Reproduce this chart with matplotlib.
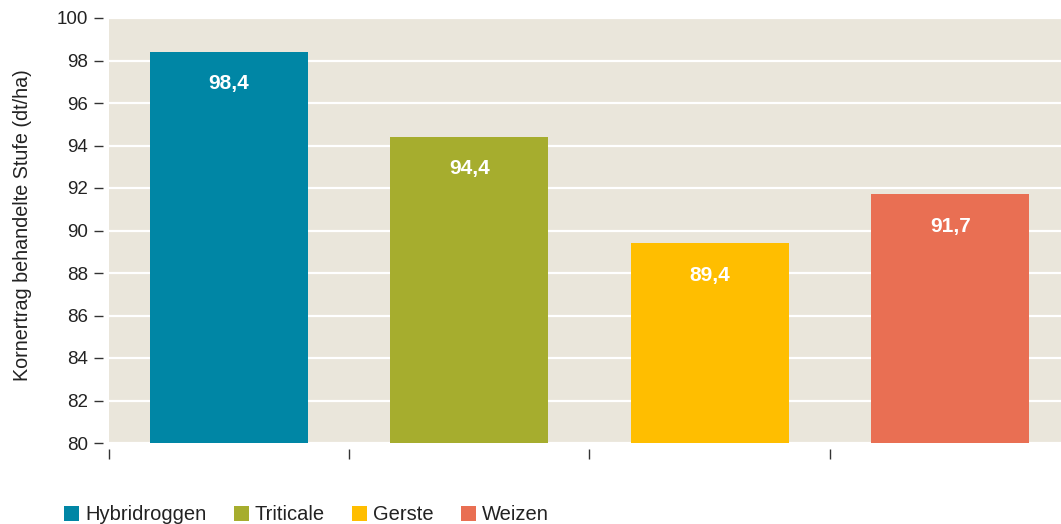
import matplotlib
matplotlib.use("Agg")
import matplotlib.pyplot as plt
from matplotlib.patches import Patch
from matplotlib.ticker import FixedLocator, NullFormatter

# Data
categories = ["Hybridroggen", "Triticale", "Gerste", "Weizen"]
yields = [98.4, 94.4, 89.4, 91.7]
colors = ["#0086a5", "#a6ad2e", "#ffbe00", "#e96f53"]
yticks = [80, 82, 84, 86, 88, 90, 92, 94, 96, 98, 100]

plt.rcParams["font.family"] = ["Liberation Sans", "DejaVu Sans"]

W, H = 1061, 524
fig = plt.figure(figsize=(W / 100, H / 100), dpi=100)
# plot area runs off the right edge of the figure
left, right, top, bottom = 108.5, 1070.5, 18, 443
ax = fig.add_axes([left / W, 1 - bottom / H, (right - left) / W, (bottom - top) / H])
ax.set_facecolor("#eae6db")

x = list(range(len(categories)))
ax.bar(x, [v - 80 for v in yields], bottom=80, width=0.657, color=colors, zorder=3)

ax.set_xlim(-0.5, len(categories) - 0.5)
ax.set_ylim(80, 100)
ax.yaxis.set_major_locator(FixedLocator(yticks))
ax.yaxis.grid(True, color="white", linewidth=1.6, zorder=1)
ax.set_axisbelow(True)

for s in ["top", "right"]:
    ax.spines[s].set_visible(False)
ax.spines["left"].set_position(("outward", 4))
ax.spines["left"].set_visible(False)
ax.spines["bottom"].set_position(("outward", 4.5))
ax.spines["bottom"].set_visible(False)

ax.tick_params(axis="y", direction="out", length=6.5, width=1.0, color="#333333",
               pad=4.5, labelsize=13.5, labelcolor="#222222")
ax.xaxis.set_major_locator(FixedLocator([i - 0.5 for i in range(len(categories) + 1)]))
ax.xaxis.set_major_formatter(NullFormatter())
ax.tick_params(axis="x", direction="out", length=7.5, width=1.0, color="#333333")

ax.set_ylabel("Kornertrag behandelte Stufe (dt/ha)", fontsize=14.2, color="#222222")
ax.yaxis.set_label_coords(-0.0795, 0.513)

for xi, v in zip(x, yields):
    ax.annotate(f"{v:.1f}".replace(".", ","), xy=(xi, v), xytext=(0, -23),
                textcoords="offset points", ha="center", va="center",
                color="white", fontsize=15, fontweight="bold", zorder=4)

handles = [Patch(facecolor=c, edgecolor="none") for c in colors]
fig.legend(handles, categories, loc="lower left", bbox_to_anchor=(46 / W, -0.035),
           ncol=4, frameon=False, fontsize=14.5, handlelength=0.75, handleheight=0.75,
           handletextpad=0.3, columnspacing=1.35, labelcolor="#222222")

fig.savefig("out.png", dpi=100)
